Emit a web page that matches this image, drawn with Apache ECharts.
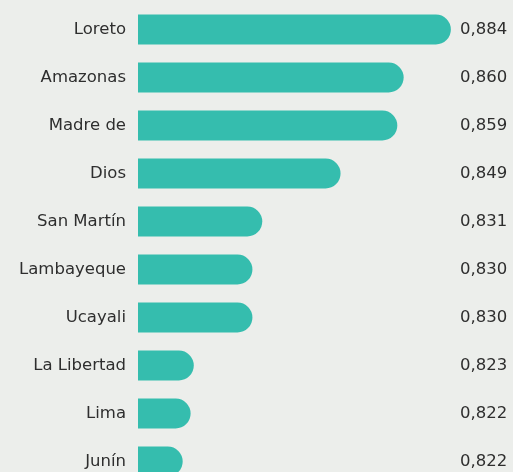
<!DOCTYPE html>
<html>
<head>
<meta charset="utf-8">
<script src="https://cdn.jsdelivr.net/npm/echarts@6/dist/echarts.min.js"></script>
<style>
  html, body { margin: 0; padding: 0; background: #eceeeb; overflow: hidden; }
  /* the last row is cut by the bottom edge in the source, so the chart runs past the window */
  #chart { width: 513px; height: 486px; }
</style>
</head>
<body>
<div id="chart"></div>
<script>
// region names as printed on the left (the source splits "Madre de Dios" over two rows)
var regions = ['Loreto', 'Amazonas', 'Madre de', 'Dios', 'San Martín', 'Lambayeque', 'Ucayali', 'La Libertad', 'Lima', 'Junín'];
// score printed at the right of each row
var scores = ['0,884', '0,860', '0,859', '0,849', '0,831', '0,830', '0,830', '0,823', '0,822', '0,822'];
// bar length as drawn, on a 0-100 scale
var barLengths = [98.7, 83.8, 81.8, 63.9, 39.2, 36.1, 36.1, 17.6, 16.6, 14.1];

var chart = echarts.init(document.getElementById('chart'));
var option = {
  backgroundColor: '#eceeeb',
  animation: false,
  grid: { left: 138, top: 5.5, width: 317, height: 480 },
  xAxis: {
    type: 'value', min: 0, max: 100, show: false
  },
  yAxis: [
    {
      type: 'category',
      inverse: true,
      data: regions,
      axisLine: { show: false },
      axisTick: { show: false },
      axisLabel: {
        margin: 12,
        color: '#2e2e2e',
        fontFamily: 'DejaVu Sans',
        fontSize: 16.5
      }
    },
    {
      type: 'category',
      inverse: true,
      position: 'right',
      data: scores,
      axisLine: { show: false },
      axisTick: { show: false },
      axisLabel: {
        margin: 5,
        color: '#2e2e2e',
        fontFamily: 'DejaVu Sans',
        fontSize: 16.5
      }
    }
  ],
  series: [
    {
      type: 'bar',
      data: barLengths,
      barWidth: 30,
      itemStyle: { color: '#35bdae', borderRadius: [0, 15, 15, 0] }
    }
  ]
};
chart.setOption(option);
</script>
</body>
</html>
